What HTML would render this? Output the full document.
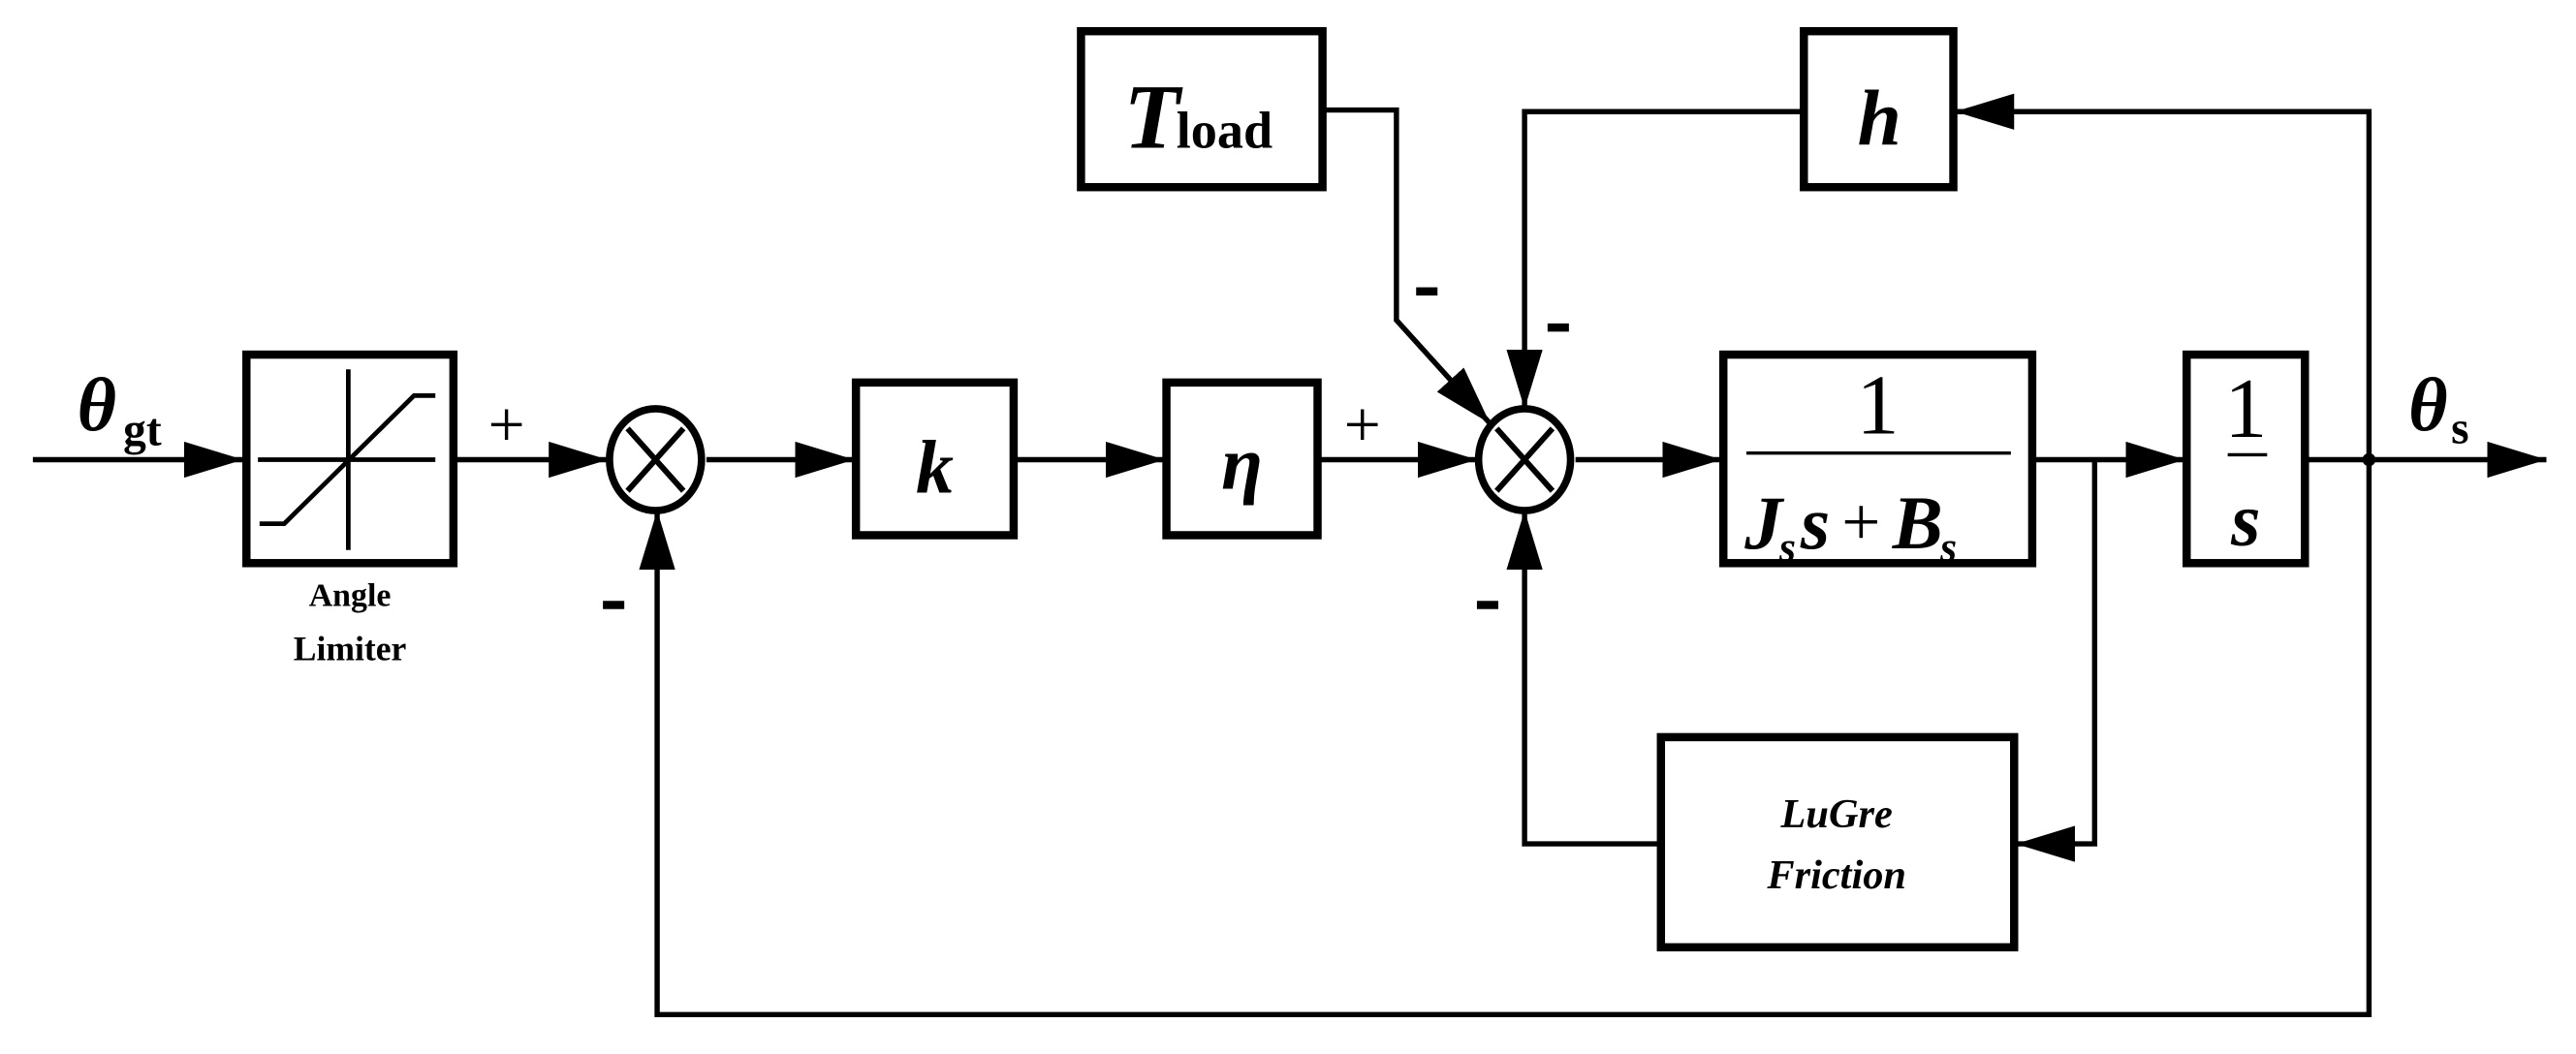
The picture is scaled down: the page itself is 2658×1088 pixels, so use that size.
<!DOCTYPE html>
<html><head><meta charset="utf-8"><style>
html,body{margin:0;padding:0;background:#fff;}
svg{display:block;}
text{font-family:"Liberation Serif",serif;font-weight:bold;fill:#000;}
</style></head><body>
<svg width="2658" height="1088" viewBox="0 0 1568 642" preserveAspectRatio="none" xmlns="http://www.w3.org/2000/svg">
<defs>
<marker id="a" markerWidth="36" markerHeight="22" refX="36" refY="11" orient="auto" markerUnits="userSpaceOnUse">
<path d="M0,0 L36,11 L0,22 Z" fill="#000"/></marker>
</defs>
<g fill="none" stroke="#000" stroke-width="3.2" stroke-linejoin="miter">
<line x1="20" y1="280" x2="148" y2="280" marker-end="url(#a)"/>
<line x1="277" y1="280" x2="370" y2="280" marker-end="url(#a)"/>
<line x1="430" y1="280" x2="520" y2="280" marker-end="url(#a)"/>
<line x1="618" y1="280" x2="709" y2="280" marker-end="url(#a)"/>
<line x1="803" y1="280" x2="899" y2="280" marker-end="url(#a)"/>
<line x1="959" y1="280" x2="1048" y2="280" marker-end="url(#a)"/>
<line x1="1238" y1="280" x2="1330" y2="280" marker-end="url(#a)"/>
<line x1="1404" y1="280" x2="1550" y2="280" marker-end="url(#a)"/>
<polyline points="806,67 850,67 850,195 907,258" marker-end="url(#a)"/>
<polyline points="1442,280 1442,68 1190,68" marker-end="url(#a)"/>
<polyline points="1097,68 928,68 928,249" marker-end="url(#a)"/>
<polyline points="1275,280 1275,514 1227,514" marker-end="url(#a)"/>
<polyline points="1010,514 928,514 928,311" marker-end="url(#a)"/>
<polyline points="1442,280 1442,618 400,618 400,311" marker-end="url(#a)"/>
</g>
<circle cx="1442" cy="280" r="4" fill="#000"/>
<g fill="#fff" stroke="#000" stroke-width="5">
<rect x="150" y="216" width="126" height="127"/>
<rect x="521" y="233" width="96" height="93"/>
<rect x="710" y="233" width="92" height="93"/>
<rect x="658" y="19" width="147" height="95"/>
<rect x="1098" y="19" width="91" height="95"/>
<rect x="1049" y="216" width="188" height="127"/>
<rect x="1331" y="216" width="72" height="127"/>
<rect x="1011" y="449" width="215" height="128"/>
</g>
<g fill="#fff" stroke="#000" stroke-width="4.5">
<ellipse cx="399" cy="280" rx="28" ry="31"/>
<ellipse cx="928" cy="280" rx="28" ry="31"/>
</g>
<g stroke="#000" stroke-width="3.5">
<line x1="382" y1="261" x2="416" y2="299"/><line x1="416" y1="261" x2="382" y2="299"/>
<line x1="911" y1="261" x2="945" y2="299"/><line x1="945" y1="261" x2="911" y2="299"/>
</g>
<g fill="none" stroke="#000" stroke-width="2.8">
<line x1="157" y1="280" x2="265" y2="280"/>
<line x1="212" y1="225" x2="212" y2="335"/>
<polyline points="158,319 173,319 252,241 265,241"/>
<line x1="1063" y1="276" x2="1224" y2="276" stroke-width="2"/>
<line x1="1356" y1="277" x2="1380" y2="277" stroke-width="2"/>
</g>
<g fill="#000">
<rect x="367" y="366" width="13" height="5"/>
<rect x="862" y="175" width="13" height="5"/>
<rect x="942" y="197" width="13" height="5"/>
<rect x="899" y="366" width="13" height="5"/>
</g>
<text x="47" y="262" font-size="46" font-style="italic">θ</text>
<text x="75" y="271" font-size="28">gt</text>
<text x="213" y="369" font-size="20" text-anchor="middle">Angle</text>
<text x="213" y="402" font-size="21" text-anchor="middle">Limiter</text>
<text x="297" y="272" font-size="40" style="font-weight:normal">+</text>
<text x="569" y="300" font-size="46" font-style="italic" text-anchor="middle">k</text>
<text x="756" y="298" font-size="46" font-style="italic" text-anchor="middle">η</text>
<text x="818" y="272" font-size="40" style="font-weight:normal">+</text>
<text x="684" y="90" font-size="56" font-style="italic">T</text>
<text x="716" y="90" font-size="32">load</text>
<text x="1144" y="88" font-size="48" font-style="italic" text-anchor="middle">h</text>
<text x="1143" y="264" font-size="52" text-anchor="middle" style="font-weight:normal">1</text>
<text x="1062" y="334" font-size="46" font-style="italic">J</text>
<text x="1083" y="342" font-size="26" font-style="italic">s</text>
<text x="1096" y="334" font-size="46" font-style="italic">s</text>
<text x="1121" y="332" font-size="42" style="font-weight:normal">+</text>
<text x="1152" y="334" font-size="46" font-style="italic">B</text>
<text x="1181" y="342" font-size="26" font-style="italic">s</text>
<text x="1367" y="266" font-size="52" text-anchor="middle" style="font-weight:normal">1</text>
<text x="1367" y="332" font-size="46" font-style="italic" text-anchor="middle">s</text>
<text x="1466" y="262" font-size="46" font-style="italic">θ</text>
<text x="1492" y="270" font-size="28">s</text>
<text x="1118" y="504" font-size="25" font-style="italic" text-anchor="middle">LuGre</text>
<text x="1118" y="541" font-size="25" font-style="italic" text-anchor="middle">Friction</text>
</svg>
</body></html>
